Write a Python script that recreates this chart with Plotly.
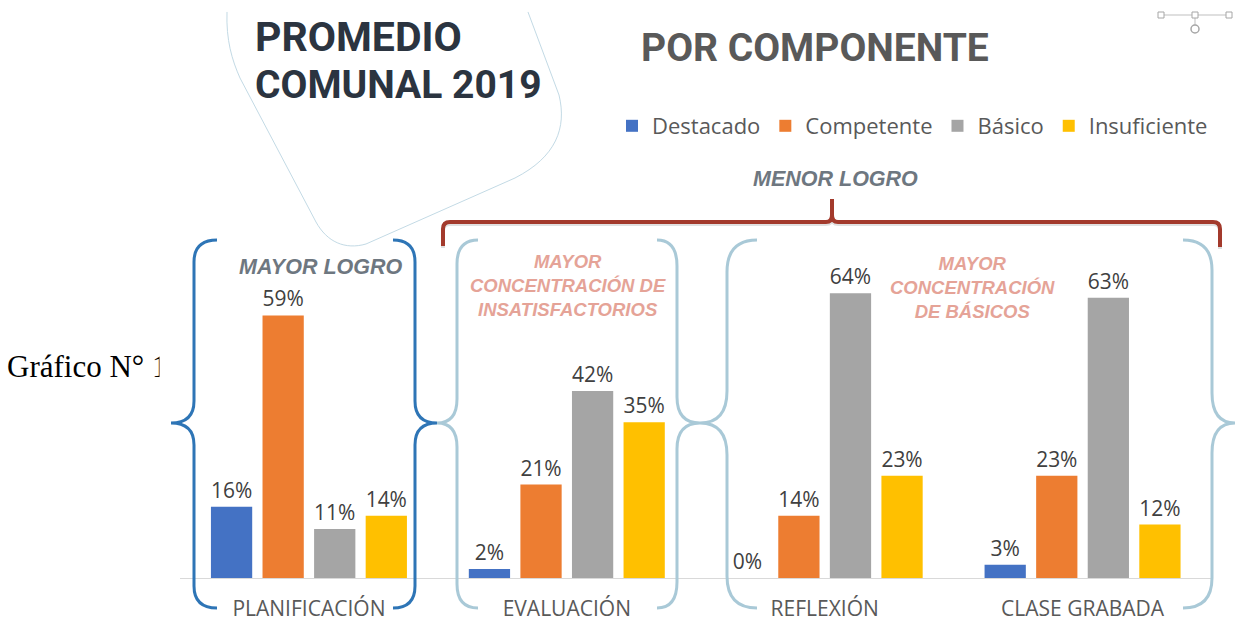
import plotly.graph_objects as go

# Data
componentes = ["PLANIFICACIÓN", "EVALUACIÓN", "REFLEXIÓN", "CLASE GRABADA"]
destacado = [16, 2, 0, 3]
competente = [59, 21, 14, 23]
basico = [11, 42, 64, 63]
insuficiente = [14, 35, 23, 12]

series = [
    ("Destacado", destacado, "#4472C4"),
    ("Competente", competente, "#ED7D31"),
    ("Básico", basico, "#A5A5A5"),
    ("Insuficiente", insuficiente, "#FFC000"),
]

W, H = 1236, 623


def px(x):
    return x / W


def py(y):
    return 1 - y / H


def pt(x, y):
    return f"{px(x):.5f},{py(y):.5f}"


def brace(xe, xv, xt, yt, ym, yb, r):
    """Curly brace path: end curls at xe, vertical stroke at xv, tip at xt."""
    return (
        f"M{pt(xe, yt)} Q{pt(xv, yt)} {pt(xv, yt + r)} L{pt(xv, ym - r)} "
        f"Q{pt(xv, ym)} {pt(xt, ym)} Q{pt(xv, ym)} {pt(xv, ym + r)} "
        f"L{pt(xv, yb - r)} Q{pt(xv, yb)} {pt(xe, yb)}"
    )


fig = go.Figure()
for name, vals, color in series:
    fig.add_trace(go.Bar(
        name=name, x=componentes, y=vals, marker_color=color,
        marker_line_width=0,
        texttemplate="%{y}%", textposition="outside",
        textfont=dict(family="Open Sans", size=21, color="#404040"),
        cliponaxis=False,
    ))

BLUE = "#2E75B6"
PALE = "#A9C9D7"
RED = "#A33A2C"

shapes = []
# braces around the component groups
for xe, xv, xt, r, col in [
    (217, 194, 171, 22, BLUE), (393, 415, 437, 22, BLUE),
    (478, 457, 437, 24, PALE), (657, 677, 700, 26, PALE),
    (757, 727, 700, 32, PALE), (1183, 1212, 1235, 30, PALE),
]:
    shapes.append(dict(type="path", xref="paper", yref="paper",
                       path=brace(xe, xv, xt, 240, 423, 608, r),
                       line=dict(color=col, width=3), layer="above"))

# bracket spanning the lower-achievement components (soft shadow + stroke)
def bracket(dy):
    return (
        f"M{pt(443, 246 + dy)} L{pt(443, 229 + dy)} Q{pt(443, 222 + dy)} {pt(450, 222 + dy)} "
        f"L{pt(826, 222 + dy)} Q{pt(832, 222 + dy)} {pt(832, 215 + dy)} L{pt(832, 199 + dy)} "
        f"L{pt(832, 215 + dy)} Q{pt(832, 222 + dy)} {pt(838, 222 + dy)} "
        f"L{pt(1213, 222 + dy)} Q{pt(1220, 222 + dy)} {pt(1220, 229 + dy)} L{pt(1220, 247 + dy)}"
    )


shapes.append(dict(type="path", xref="paper", yref="paper", path=bracket(2),
                   line=dict(color="rgba(0,0,0,0.12)", width=4)))
shapes.append(dict(type="path", xref="paper", yref="paper", path=bracket(0),
                   line=dict(color=RED, width=4)))

# rounded outline behind the main title
shapes.append(dict(
    type="path", xref="paper", yref="paper", layer="below",
    path=(f"M{pt(227, 12)} C{pt(226, 40)} {pt(232, 60)} {pt(240, 78)} "
          f"L{pt(316, 222)} C{pt(327, 242)} {pt(345, 250)} {pt(366, 244)} "
          f"L{pt(515, 178)} C{pt(556, 157)} {pt(567, 128)} {pt(559, 95)} L{pt(528, 12)}"),
    line=dict(color="#C3DAE5", width=1)))

# small selection handle in the top-right corner
shapes.append(dict(type="line", xref="paper", yref="paper",
                   x0=px(1161), x1=px(1229), y0=py(15), y1=py(15),
                   line=dict(color="#BFBFBF", width=1)))
shapes.append(dict(type="line", xref="paper", yref="paper",
                   x0=px(1195), x1=px(1195), y0=py(15), y1=py(25),
                   line=dict(color="#BFBFBF", width=1)))
for cx in (1161, 1195, 1229):
    shapes.append(dict(type="rect", xref="paper", yref="paper",
                       x0=px(cx - 3), x1=px(cx + 3), y0=py(12), y1=py(18),
                       line=dict(color="#A6A6A6", width=1), fillcolor="white"))
shapes.append(dict(type="circle", xref="paper", yref="paper",
                   x0=px(1191), x1=px(1199), y0=py(25), y1=py(33),
                   line=dict(color="#A6A6A6", width=1.5), fillcolor="white"))

annotations = [
    dict(text="Gráfico N° 1", x=px(5), y=py(366), xanchor="left", yanchor="middle",
         font=dict(family="Liberation Serif", size=31, color="#000000")),
    # white panel edge that clips the caption
    dict(text=" ", x=px(159), y=py(366), xanchor="left", yanchor="middle",
         width=12, height=44, bgcolor="white", borderpad=0),
    dict(text="<b>PROMEDIO</b>", x=px(253), y=py(37), xanchor="left", yanchor="middle",
         font=dict(family="Roboto", size=41, color="#2B3440")),
    dict(text="<b>COMUNAL 2019</b>", x=px(253), y=py(85), xanchor="left", yanchor="middle",
         font=dict(family="Roboto", size=39, color="#2B3440")),
    dict(text="<b>POR COMPONENTE</b>", x=px(639), y=py(48), xanchor="left", yanchor="middle",
         font=dict(family="Roboto", size=39, color="#595959")),
    dict(text="<b><i>MENOR LOGRO</i></b>", x=px(835), y=py(179), xanchor="center", yanchor="middle",
         font=dict(family="Liberation Sans", size=21.5, color="#6E7780")),
    dict(text="<b><i>MAYOR LOGRO</i></b>", x=px(321), y=py(267), xanchor="center", yanchor="middle",
         font=dict(family="Liberation Sans", size=21.5, color="#6E7780")),
    dict(text="<b><i>MAYOR<br>CONCENTRACIÓN DE<br>INSATISFACTORIOS</i></b>",
         x=px(568), y=py(285), xanchor="center", yanchor="middle",
         font=dict(family="Liberation Sans", size=18.5, color="#E5A397")),
    dict(text="<b><i>MAYOR<br>CONCENTRACIÓN<br>DE BÁSICOS</i></b>",
         x=px(973), y=py(287), xanchor="center", yanchor="middle",
         font=dict(family="Liberation Sans", size=18.5, color="#E5A397")),
]
for a in annotations:
    a.update(xref="paper", yref="paper", showarrow=False)

fig.update_layout(
    width=W, height=H,
    margin=dict(l=0, r=0, t=0, b=0),
    paper_bgcolor="white", plot_bgcolor="white",
    barmode="group", bargap=0.2, bargroupgap=0.2,
    xaxis=dict(domain=[px(180), px(1211.5)], showgrid=False, zeroline=False,
               showline=True, linecolor="#D9D9D9", linewidth=1, automargin=False,
               ticks="outside", ticklen=12, tickcolor="rgba(0,0,0,0)",
               tickfont=dict(family="Open Sans", size=21, color="#595959")),
    yaxis=dict(domain=[py(578), py(133)], range=[0, 100], visible=False,
               automargin=False),
    showlegend=True,
    legend=dict(orientation="h", x=px(612), y=py(126), xanchor="left", yanchor="middle",
                font=dict(family="Open Sans", size=22, color="#595959"),
                bgcolor="rgba(0,0,0,0)", traceorder="normal"),
    shapes=shapes,
    annotations=annotations,
    font=dict(family="Open Sans"),
)

fig.write_html("out.html")
